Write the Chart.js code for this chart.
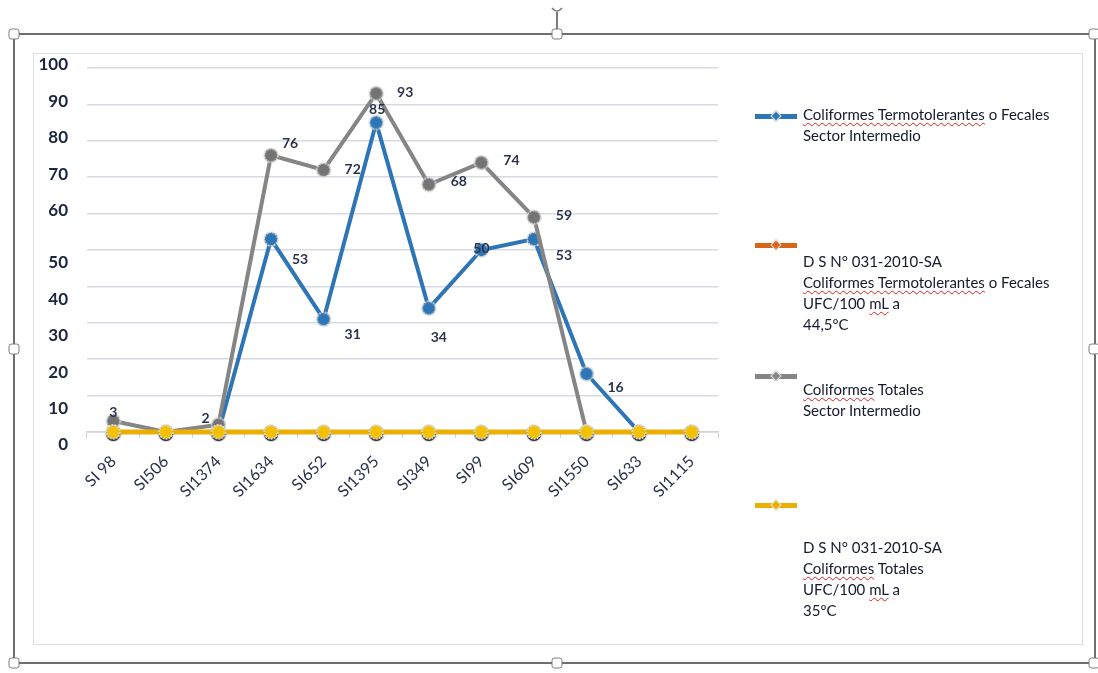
<!DOCTYPE html>
<html>
<head>
<meta charset="utf-8">
<script src="https://cdn.jsdelivr.net/npm/chart.js@4.4.1/dist/chart.umd.min.js"></script>
<style>
  html, body { margin: 0; padding: 0; background: #fff; }
  body { width: 1098px; height: 673px; position: relative; overflow: hidden; font-family: Lato, "Open Sans", sans-serif; }
  #frame { position: absolute; left: 13px; top: 33px; width: 1083px; height: 631px; border: 2px solid #6e6e6e; box-sizing: border-box; }
  .handle { position: absolute; width: 9px; height: 9px; background: #fff; border: 1.5px solid #7a7a7a; border-radius: 3px; transform: translate(-50%, -50%); }
  #rot { position: absolute; left: 556px; top: 12px; width: 2px; height: 22px; background: #7a7a7a; }
  #inner { position: absolute; left: 33px; top: 53px; width: 1050px; height: 592px; border: 1px solid #d9dde6; box-sizing: border-box; }
  #wrap { position: absolute; left: 34px; top: 54px; width: 1048px; height: 590px; }
  .lg-sample { position: absolute; left: 755px; width: 42px; height: 5px; }
  .lg-sample i { position: absolute; left: 17px; top: -2px; width: 8px; height: 8px; transform: rotate(45deg); border: 1px solid #e6e6e6; box-sizing: border-box; }
  .lg-text { position: absolute; left: 803px; font-size: 15px; line-height: 21px; color: #141b2d; white-space: pre-line; }
  .sp { text-decoration: underline wavy #d22; text-decoration-thickness: 1px; text-underline-offset: 2px; }
</style>
</head>
<body>
<div id="inner"></div>
<div id="wrap"><canvas id="chart"></canvas></div>
<div id="frame"></div>
<div id="rot"></div>
<svg style="position:absolute;left:549px;top:4px" width="16" height="12"><path d="M3 4 Q8 10 13 4" fill="none" stroke="#7a7a7a" stroke-width="1.5"/></svg>
<div id="legend"></div>
<script>
const categories = ['SI 98', 'SI506', 'SI1374', 'SI1634', 'SI652', 'SI1395', 'SI349', 'SI99', 'SI609', 'SI1550', 'SI633', 'SI1115'];
const fecalesIntermedio = [0, 0, 0, 53, 31, 85, 34, 50, 53, 16, 0, 0];
const normaFecales = [0, 0, 0, 0, 0, 0, 0, 0, 0, 0, 0, 0];
const totalesIntermedio = [3, 0, 2, 76, 72, 93, 68, 74, 59, 0, 0, 0];
const normaTotales = [0, 0, 0, 0, 0, 0, 0, 0, 0, 0, 0, 0];
const yTicks = [0, 10, 20, 30, 40, 50, 60, 70, 80, 90, 100];
const seriesNames = [
    'Coliformes Termotolerantes o Fecales\nSector Intermedio',
    'D S N° 031-2010-SA\nColiformes Termotolerantes o Fecales\nUFC/100 mL a\n44,5ºC',
    'Coliformes Totales\nSector Intermedio',
    'D S N° 031-2010-SA\nColiformes Totales\nUFC/100 mL a\n35ºC'
];

// where each value label sits relative to its point (dx, dy)
const fecalesLabelPos = [null, null, null, [29, 20], [29, 15], [1, -13], [10, 29], [0, -2], [30, 16], [29, 14], null, null];
const totalesLabelPos = [[0, -9], null, [-13, -6], [19, -12], [29, 0], [29, -1], [30, -3], [30, -2], [30, -2], null, null, null];

// legend layout: line sample centre y, text top
const legendLayout = [[116, 104], [245, 251], [376, 379], [505, 537]];

function makeMarker(fill, ring, shadow) {
    const c = document.createElement('canvas');
    c.width = 26; c.height = 26;
    const g = c.getContext('2d');
    if (shadow) {
        // dark rim underneath, like the reference's bevel
        g.shadowColor = 'rgba(0,0,0,0.6)';
        g.shadowBlur = 2;
        g.beginPath();
        g.arc(13, 15, 7, 0, Math.PI * 2);
        g.fillStyle = '#2a2a2a';
        g.fill();
        g.shadowColor = 'transparent';
    }
    g.beginPath();
    g.arc(13, 13, 6.8, 0, Math.PI * 2);
    g.fillStyle = fill;
    g.fill();
    g.lineWidth = 1.8;
    g.strokeStyle = ring;
    g.setLineDash([2, 1]);
    g.stroke();
    return c;
}

const valueLabels = {
    id: 'valueLabels',
    afterDatasetsDraw(chart) {
        const ctx = chart.ctx;
        ctx.save();
        ctx.font = 'bold 14px Lato';
        ctx.fillStyle = '#2b344d';
        ctx.textAlign = 'center';
        ctx.textBaseline = 'middle';
        chart.data.datasets.forEach((ds, i) => {
            if (!ds.labelPos) return;
            chart.getDatasetMeta(i).data.forEach((pt, j) => {
                const off = ds.labelPos[j];
                if (!off || !ds.data[j]) return;
                ctx.fillText(String(ds.data[j]), pt.x + off[0], pt.y + off[1]);
            });
        });
        ctx.restore();
    }
};

const yLabels = {
    id: 'yLabels',
    afterDraw(chart) {
        const s = chart.scales.y;
        const ctx = chart.ctx;
        ctx.save();
        ctx.font = 'bold 17px Lato';
        ctx.fillStyle = '#1b2540';
        ctx.textAlign = 'right';
        ctx.textBaseline = 'middle';
        s.ticks.forEach(t => {
            const shift = t.value > 50 ? -3 : 13;
            ctx.fillText(String(t.value), chart.chartArea.left - 19, s.getPixelForValue(t.value) + shift);
        });
        ctx.restore();
    }
};

const ctx = document.getElementById('chart').getContext('2d');
const chart = new Chart(ctx, {
    type: 'line',
    data: {
        labels: categories,
        datasets: [
            { label: seriesNames[0], data: fecalesIntermedio, borderColor: '#2e75b6', borderWidth: 4, pointStyle: makeMarker('#2e75b6', '#d6d6d6'), order: 3, clip: false, labelPos: fecalesLabelPos },
            { label: seriesNames[1], data: normaFecales, borderColor: '#d9651b', borderWidth: 4, pointStyle: makeMarker('#d9651b', '#d6d6d6'), order: 1, clip: false },
            { label: seriesNames[2], data: totalesIntermedio, borderColor: '#858585', borderWidth: 4, pointStyle: makeMarker('#747474', '#d6d6d6'), order: 2, clip: false, labelPos: totalesLabelPos },
            { label: seriesNames[3], data: normaTotales, borderColor: '#eaaf00', borderWidth: 5, pointStyle: makeMarker('#f4c100', '#dcdcdc', true), order: 0, clip: false }
        ]
    },
    options: {
        responsive: true,
        maintainAspectRatio: false,
        animation: false,
        layout: { padding: { left: 0, top: 14, right: 364, bottom: 0 } },
        elements: { line: { tension: 0 } },
        plugins: {
            legend: { display: false },
            tooltip: { enabled: false }
        },
        scales: {
            x: {
                offset: true,
                grid: { drawOnChartArea: false, drawTicks: true, tickLength: 6, color: '#cfd3db', offset: true },
                border: { display: true, color: '#cfd3db', width: 1.5 },
                ticks: { minRotation: 45, maxRotation: 45, autoSkip: false, padding: 14, color: '#27304a', font: { family: 'Lato', size: 16 } },
                afterFit: s => { s.height = 212; }
            },
            y: {
                min: yTicks[0],
                max: yTicks[yTicks.length - 1],
                afterBuildTicks: s => { s.ticks = yTicks.map(v => ({ value: v })); },
                grid: { color: '#d6dae3', lineWidth: 1.5, drawTicks: false },
                border: { display: false },
                ticks: { display: false },
                afterFit: s => { s.width = 53; }
            }
        }
    },
    plugins: [valueLabels, yLabels]
});

// legend on the right, built from the datasets; spell-check squiggles on some words
function markSpelling(text) {
    return text
        .replace(/Coliformes Termotolerantes|Coliformes|mL/g, w => '<span class="sp">' + w + '</span>');
}
const legend = document.getElementById('legend');
legend.innerHTML = chart.data.datasets.map((ds, i) => {
    const [sy, ty] = legendLayout[i];
    return `<div class="lg-sample" style="top:${sy - 2.5}px;background:${ds.borderColor}"><i style="background:${ds.borderColor}"></i></div>` +
        `<div class="lg-text" style="top:${ty}px">${markSpelling(ds.label)}</div>`;
}).join('');

[[14, 34], [557, 34], [1094, 34], [14, 349], [1094, 349], [14, 663], [557, 663], [1094, 663]].forEach(([x, y]) => {
    const h = document.createElement('div');
    h.className = 'handle';
    h.style.left = x + 'px';
    h.style.top = y + 'px';
    document.body.appendChild(h);
});
</script>
</body>
</html>
